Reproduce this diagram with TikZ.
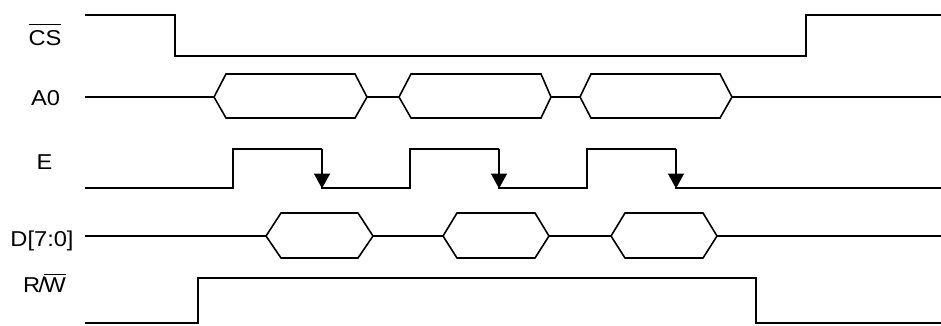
\documentclass[tikz,border=0pt]{standalone}
\usepackage{fontspec}
\setmainfont{Liberation Sans}
\usetikzlibrary{arrows.meta}
\newcommand{\ovl}[2][5pt]{\setbox0\hbox{#2}\rlap{\rule[\dimexpr\ht0+#1\relax]{\wd0}{1.4pt}}\box0}
\begin{document}
\begin{tikzpicture}[x=1pt,y=-1pt,
  sig/.style={line width=1.6pt,line join=miter},
  bus/.style={line width=1.6pt,line join=miter},
  edgearrow/.style={line width=1.6pt,-{Triangle[length=15pt,width=16pt]}},
  lbl/.style={anchor=base,inner sep=0pt,font=\fontsize{21.5}{24}\selectfont,xscale=1.1,transform shape}]
\useasboundingbox (0,0) rectangle (941,325);
\fill[white] (0,0) rectangle (941,325);
% labels
\node[lbl] (lcs) at (45,45.5) {\ovl[5.5pt]{CS}};
\node[lbl] (la0) at (45.5,105.5) {A0};
\node[lbl] (le) at (44.5,169) {E};
\node[lbl] (ld) at (42,246) {D[7:0]};
\node[lbl] (lrw) at (44.5,292.5) {R\kern-1.5pt/\kern-1.5pt\ovl[2.5pt]{W}};
% CS
\draw[sig] (85,15) -- (175,15) -- (175,56) -- (806,56) -- (806,15) -- (941,15);
% A0
\draw[sig] (85,97) -- (214,97);
\draw[bus] (214,97) -- (226,74) -- (355,74) -- (367,97) -- (355,118) -- (226,118) -- cycle;
\draw[sig] (367,97) -- (399,97);
\draw[bus] (399,97) -- (411,74) -- (541,74) -- (551,97) -- (541,118) -- (411,118) -- cycle;
\draw[sig] (551,97) -- (580,97);
\draw[bus] (580,97) -- (591,74) -- (720,74) -- (732,97) -- (720,118) -- (591,118) -- cycle;
\draw[sig] (732,97) -- (941,97);
% E
\draw[sig] (85,188) -- (233,188) -- (233,149) -- (322,149);
\draw[edgearrow] (322,149) -- (322,188.5);
\draw[sig] (321.2,188) -- (410,188) -- (410,149) -- (499,149);
\draw[edgearrow] (499,149) -- (499,188.5);
\draw[sig] (498.2,188) -- (587,188) -- (587,149) -- (676,149);
\draw[edgearrow] (676,149) -- (676,188.5);
\draw[sig] (675.2,188) -- (941,188);
% D[7:0]
\draw[sig] (85,236) -- (266,236);
\draw[bus] (266,236) -- (281,213) -- (358,213) -- (373,236) -- (358,258) -- (281,258) -- cycle;
\draw[sig] (373,236) -- (443,236);
\draw[bus] (443,236) -- (457,213) -- (535,213) -- (549,236) -- (535,258) -- (457,258) -- cycle;
\draw[sig] (549,236) -- (611,236);
\draw[bus] (611,236) -- (625,213) -- (703,213) -- (717,236) -- (703,258) -- (625,258) -- cycle;
\draw[sig] (717,236) -- (941,236);
% R/W
\draw[sig] (85,323) -- (198,323) -- (198,278) -- (756,278) -- (756,323) -- (941,323);
\end{tikzpicture}
\end{document}
